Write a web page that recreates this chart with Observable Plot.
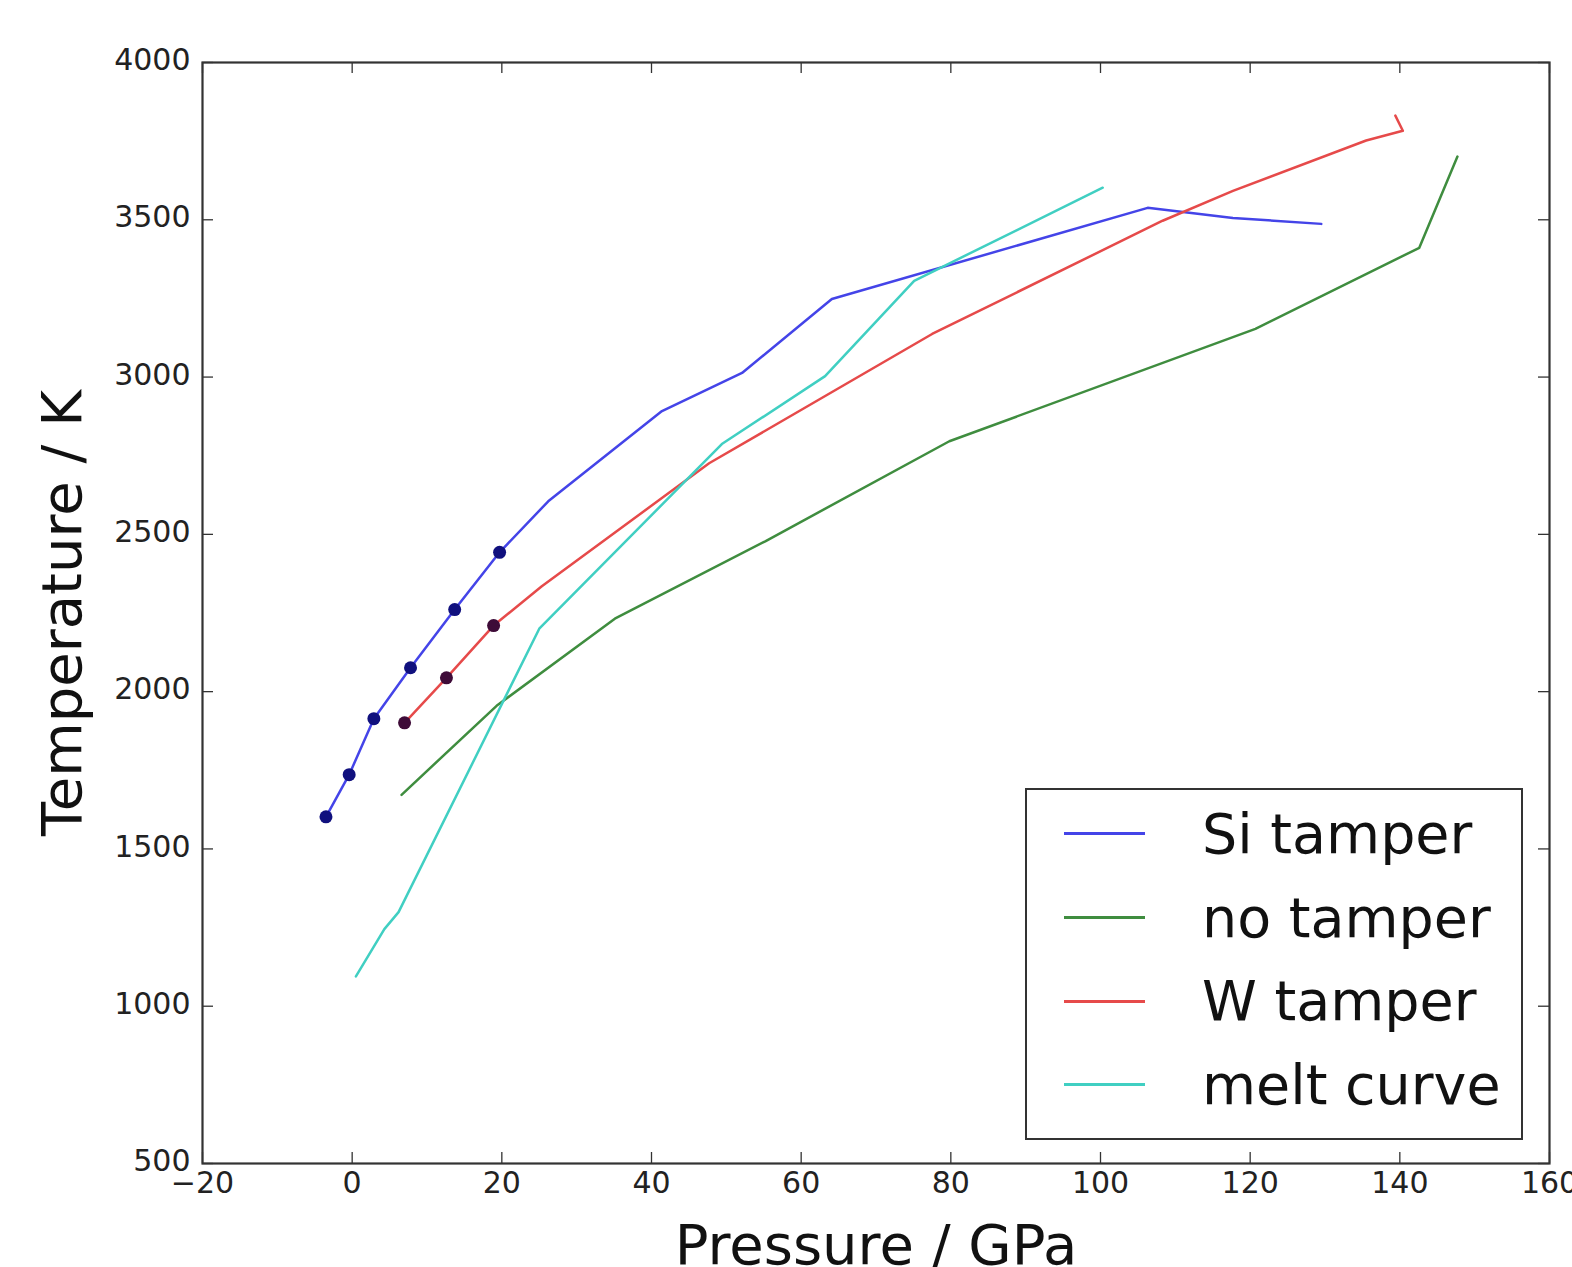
<!DOCTYPE html>
<html>
<head>
<meta charset="utf-8">
<script src="https://cdn.jsdelivr.net/npm/d3@7"></script>
<script src="https://cdn.jsdelivr.net/npm/@observablehq/plot@0.6"></script>
<style>
  html, body { margin: 0; padding: 0; background: #fff; }
  #wrap { position: relative; width: 1572px; height: 1267px; overflow: hidden; font-family: "DejaVu Sans", sans-serif; }
  #legend { position: absolute; left: 1025px; top: 788px; width: 494px; height: 346px; border: 2px solid #333; background: #fff; padding-top: 2px; box-sizing: content-box; }
  .row { display: flex; align-items: center; height: 83.7px; }
  .sample { margin-left: 37px; width: 81px; height: 3px; }
  .lab { margin-left: 57px; font-size: 55.5px; color: #111; white-space: nowrap; line-height: 1; }
</style>
</head>
<body>
<div id="wrap"></div>
<script>
// ---- data ----
const siP = [-3.5, -0.4, 2.9, 7.8, 13.7, 19.7, 26.2, 41.4, 52.1, 64.1, 106.3, 117.7, 129.5];
const siT = [1602, 1736, 1914, 2076, 2261, 2443, 2605, 2892, 3013, 3248, 3538, 3506, 3487];
const siMarkedCount = 6;

const noP = [6.6, 19.3, 35.1, 55.2, 79.8, 120.7, 142.6, 147.7];
const noT = [1672, 1955, 2232, 2478, 2796, 3153, 3411, 3701];

const wP = [7.0, 12.6, 18.9, 25.3, 47.7, 77.5, 108.3, 117.7, 135.5, 140.4, 139.4];
const wT = [1901, 2044, 2210, 2334, 2726, 3137, 3497, 3592, 3752, 3783, 3831];
const wMarkedCount = 3;

const meltP = [0.5, 4.3, 6.2, 25.0, 49.4, 63.2, 75.1, 100.3];
const meltT = [1095, 1245, 1299, 2200, 2787, 3003, 3306, 3602];

const seriesNames = ["Si tamper", "no tamper", "W tamper", "melt curve"];
const xTicks = [-20, 0, 20, 40, 60, 80, 100, 120, 140, 160];
const yTicks = [500, 1000, 1500, 2000, 2500, 3000, 3500, 4000];
const xLabel = "Pressure / GPa";
const yLabel = "Temperature / K";

// ---- styles ----
const colors = {"Si tamper": "#4444e8", "no tamper": "#3f8d3f", "W tamper": "#e64a4a", "melt curve": "#40cfc2"};
const markerColors = {"Si tamper": "#10107e", "W tamper": "#3e0b38"};

const zip = (P, T) => P.map((p, i) => ({p, t: T[i]}));
const si = zip(siP, siT), no = zip(noP, noT), w = zip(wP, wT), melt = zip(meltP, meltT);

const W = 1572, H = 1267, mT = 62, mB = 104, mL = 202, mR = 23;
const plotW = W - mL - mR, plotH = H - mT - mB;
const tickLen = 11;
const axisColor = "#333";
const numFmt = d3.format("d");
const xFmt = d => (d < 0 ? "\u2212" + numFmt(-d) : numFmt(d));

const chart = Plot.plot({
  width: W, height: H,
  marginTop: mT, marginBottom: mB, marginLeft: mL, marginRight: mR,
  style: {fontFamily: "DejaVu Sans, sans-serif", background: "#fff", overflow: "visible"},
  x: {domain: [-20, 160]},
  y: {domain: [500, 4000]},
  marks: [
    Plot.line(si, {x: "p", y: "t", stroke: colors["Si tamper"], strokeWidth: 2.5}),
    Plot.line(no, {x: "p", y: "t", stroke: colors["no tamper"], strokeWidth: 2.5}),
    Plot.line(w, {x: "p", y: "t", stroke: colors["W tamper"], strokeWidth: 2.5}),
    Plot.line(melt, {x: "p", y: "t", stroke: colors["melt curve"], strokeWidth: 2.5}),
    Plot.dot(si.slice(0, siMarkedCount), {x: "p", y: "t", r: 6.5, fill: markerColors["Si tamper"], stroke: "none"}),
    Plot.dot(w.slice(0, wMarkedCount), {x: "p", y: "t", r: 6.5, fill: markerColors["W tamper"], stroke: "none"}),
    // inward ticks on all four sides
    Plot.tickX(xTicks, {x: d => d, insetTop: plotH - tickLen, stroke: axisColor, strokeWidth: 1.3}),
    Plot.tickX(xTicks, {x: d => d, insetBottom: plotH - tickLen, stroke: axisColor, strokeWidth: 1.3}),
    Plot.tickY(yTicks, {y: d => d, insetRight: plotW - tickLen, stroke: axisColor, strokeWidth: 1.3}),
    Plot.tickY(yTicks, {y: d => d, insetLeft: plotW - tickLen, stroke: axisColor, strokeWidth: 1.3}),
    Plot.frame({stroke: axisColor, strokeWidth: 2.2}),
    Plot.axisX(xTicks, {anchor: "bottom", tickSize: 0, tickPadding: 8, fontSize: 30, label: null, fill: "#222", tickFormat: xFmt}),
    Plot.axisY(yTicks, {anchor: "left", tickSize: 0, tickPadding: 12, fontSize: 30, label: null, fill: "#222", tickFormat: numFmt, dy: -2}),
    Plot.text([xLabel], {text: d => d, frameAnchor: "bottom", textAnchor: "middle", dy: 100, lineAnchor: "bottom", fontSize: 56, fill: "#111"}),
    Plot.text([yLabel], {text: d => d, frameAnchor: "left", textAnchor: "middle", dx: -122, rotate: -90, lineAnchor: "bottom", fontSize: 56, fill: "#111"})
  ]
});

const wrap = document.getElementById("wrap");
wrap.appendChild(chart);

const legend = document.createElement("div");
legend.id = "legend";
for (const name of seriesNames) {
  const row = document.createElement("div");
  row.className = "row";
  const s = document.createElement("div");
  s.className = "sample";
  s.style.background = colors[name];
  const l = document.createElement("div");
  l.className = "lab";
  l.textContent = name;
  row.appendChild(s);
  row.appendChild(l);
  legend.appendChild(row);
}
wrap.appendChild(legend);
</script>
</body>
</html>
